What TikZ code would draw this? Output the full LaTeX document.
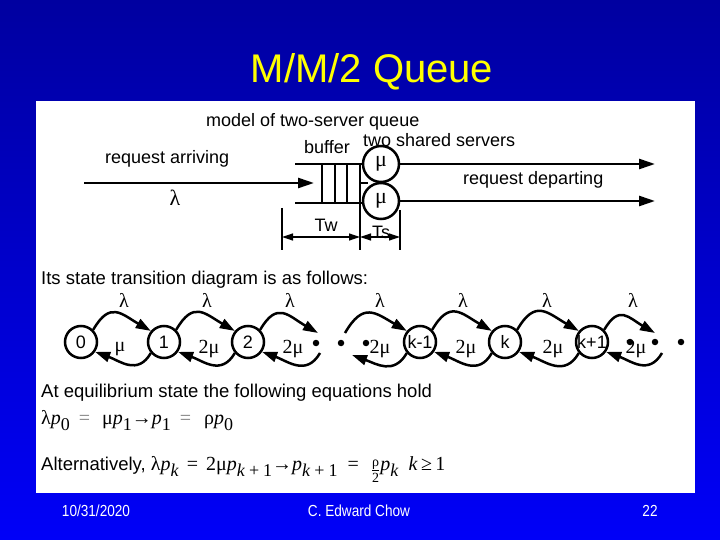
\documentclass[tikz,border=0pt]{standalone}
\usepackage{fontspec}
\usepackage{graphicx}
\setmainfont{Liberation Sans}
\newfontfamily\serif{Liberation Serif}
\usetikzlibrary{arrows.meta}
\definecolor{bgtop}{RGB}{0,0,160}
\definecolor{bgbot}{RGB}{0,0,248}
\definecolor{titley}{RGB}{255,255,0}
\newcommand{\msub}[1]{\raisebox{-0.32em}{\fontsize{18}{18}\selectfont #1}}
\newcommand{\ip}{\textit{p}}
\begin{document}
\begin{tikzpicture}[x=1pt,y=1pt,
 lab/.style={font=\fontsize{18}{18}\selectfont, inner sep=0pt},
 body/.style={font=\fontsize{18.5}{18.5}\selectfont, inner sep=0pt, anchor=base west},
 ql/.style={line width=2.5pt},
 qbar/.style={line width=1.3pt},
 qarr/.style={line width=2.5pt, -{Triangle[length=16pt,width=10pt]}},
 srv/.style={circle, draw, line width=2.5pt, minimum size=36pt, inner sep=0pt, font=\serif\fontsize{22}{22}\selectfont},
 dimln/.style={line width=1.2pt},
 dimarr/.style={line width=1.2pt, {Triangle[length=11pt,width=7pt]}-{Triangle[length=11pt,width=7pt]}},
 st/.style={circle, draw, line width=2.5pt, minimum size=32pt, inner sep=0pt},
 stxt/.style={font=\fontsize{18}{18}\selectfont, inner sep=0pt},
 sarr/.style={line width=2.5pt, -{Triangle[length=15pt,width=10pt]}},
 up/.style={sarr, out=60, in=150, looseness=1.5},
 down/.style={sarr, out=-120, in=-20, looseness=1.2},
 gl/.style={font=\serif\fontsize{20}{20}\selectfont, inner sep=0pt},
 sdot/.style={circle, fill, inner sep=0pt, minimum size=6.5pt},
 foot/.style={font=\fontsize{16}{16}\selectfont, text=white, inner sep=0pt}
]
\shade[top color=bgtop,bottom color=bgbot] (0,0) rectangle (720,-540);
\useasboundingbox (0,0) rectangle (720,-540);
\fill[white] (36,-101) rectangle (695,-493);

% title
\node[font=\fontsize{40}{40}\selectfont, text=titley, inner sep=0pt] (title) at (372,-72) {M/M/2 Queue};

% queue model
\node[lab, anchor=west] (model) at (206,-122) {model of two-server queue};
\node[lab, anchor=west] (shared) at (363,-140) {two shared servers};
\node[lab] (buffer) at (327,-147) {buffer};
\node[lab, anchor=west] (arriv) at (105,-159) {request arriving};
\node[lab, anchor=west] (depart) at (463,-180) {request departing};
\node[font=\serif\fontsize{22}{22}\selectfont, inner sep=0pt] (lamq) at (175,-198) {λ};

\coordinate (inS) at (84,-183);
\coordinate (inE) at (314,-183);
\draw[qarr] (inS) -- (inE);
\draw[ql] (295,-164) -- (362,-164);
\draw[ql] (295,-203) -- (362,-203);
\foreach \x in {322,335,347} \draw[qbar] (\x,-164) -- (\x,-203);
\draw[ql] (360,-164) -- (360,-250);
\draw[ql] (360,-183) -- (368,-183);
\node[srv] (s1) at (381,-164) {μ};
\node[srv] (s2) at (381,-201) {μ};
\coordinate (o1) at (655,-164);
\coordinate (o2) at (655,-201);
\draw[qarr] (s1.east) -- (o1);
\draw[qarr] (s2.east) -- (o2);
\draw[dimln] (282,-208) -- (282,-250);
\draw[dimln] (400,-210) -- (400,-250);
\coordinate (dA) at (282,-237);
\coordinate (dB) at (360,-237);
\coordinate (dC) at (400,-237);
\draw[dimarr] (dA) -- (dB);
\draw[dimarr] (dB) -- (dC);
\node[lab] (tw) at (326,-225) {Tw};
\node[lab] (ts) at (381,-232) {Ts};

% state diagram
\node[body] (its) at (41,-284) {Its state transition diagram is as follows:};
\node[st] (n0) at (81,-342) {};
\node[st] (n1) at (164,-342) {};
\node[st] (n2) at (248,-342) {};
\node[st] (nkm) at (420,-342) {};
\node[st] (nk) at (505,-342) {};
\node[st] (nkp) at (592,-342) {};
\node[stxt] (t0) at (n0) {0};
\node[stxt] (t1) at (n1) {1};
\node[stxt] (t2) at (n2) {2};
\node[stxt] (tkm) at (nkm) {k-1};
\node[stxt] (tk) at (nk) {k};
\node[stxt] (tkp) at (nkp) {k+1};
\node[sdot] (d1) at (316,-343) {};
\node[sdot] (d2) at (341,-343) {};
\node[sdot] (d3) at (366,-343) {};
\node[sdot] (e1) at (630,-342) {};
\node[sdot] (e2) at (655,-342) {};
\node[sdot] (e3) at (681,-342) {};
\coordinate (g1a) at (318,-333);
\coordinate (g1b) at (320,-353);
\coordinate (g2a) at (345,-333);
\coordinate (g2b) at (352,-355);
\coordinate (h1a) at (655,-333);
\coordinate (h1b) at (662,-353);

\draw[up] (n0.45) to (n1.140);
\draw[up] (n1.45) to (n2.140);
\draw[up] (n2.45) to (g1a);
\draw[up] (g2a) to (nkm.140);
\draw[up] (nkm.45) to (nk.140);
\draw[up] (nk.45) to (nkp.140);
\draw[up] (nkp.45) to (h1a);

\draw[down] (n1.-140) to (n0.-35);
\draw[down] (n2.-140) to (n1.-35);
\draw[down] (g1b) to (n2.-35);
\draw[down] (nkm.-140) to (g2b);
\draw[down] (nk.-140) to (nkm.-35);
\draw[down] (nkp.-140) to (nk.-35);
\draw[down] (h1b) to (nkp.-35);

\foreach \x/\n in {124/a,207/b,290/c,380/d,463/e,547/f,633/g}
  \node[gl] (lam\n) at (\x,-300) {λ};
\node[gl] (mu0) at (120,-349) {μ};
\foreach \x/\n in {209/b,293/c,380/d,466/e,553/f,636/g}
  \node[gl] (mu\n) at (\x,-349) {2μ};

% equations
\node[body] (equil) at (41,-397) {At equilibrium state the following equations hold};
\node[inner sep=0pt, anchor=base west, font=\serif\fontsize{20}{20}\selectfont] (eq1) at (41,-424)
 {λ\ip\msub{0}\hspace{9pt}\textcolor{gray}{=}\hspace{12pt}μ\ip\msub{1}→\ip\msub{1}\hspace{9pt}\textcolor{gray}{=}\hspace{13pt}ρ\ip\msub{0}};
\node[body] (alt) at (41,-470) {Alternatively, {\serif\fontsize{20}{20}\selectfont λ\ip\msub{\textit{k}}\hspace{8pt}=\hspace{8pt}2μ\ip\msub{\textit{k}\hspace{4pt}+\hspace{4pt}1}→\ip\msub{\textit{k}\hspace{4pt}+\hspace{4pt}1}\hspace{10pt}=\hspace{12pt}\raisebox{-0.25em}{$\frac{\hbox{\serif\fontsize{14}{14}\selectfont ρ}}{\hbox{\serif\fontsize{14}{14}\selectfont 2}}$}\ip\msub{\textit{k}}\hspace{10pt}\textit{k}\,≥\,1}};

% footer
\node[foot] (date) at (96,-511) {\scalebox{0.85}[1]{10/31/2020}};
\node[foot] (author) at (359,-511) {\scalebox{0.85}[1]{C. Edward Chow}};
\node[foot] (page) at (650,-511) {\scalebox{0.85}[1]{22}};
\end{tikzpicture}
\end{document}
